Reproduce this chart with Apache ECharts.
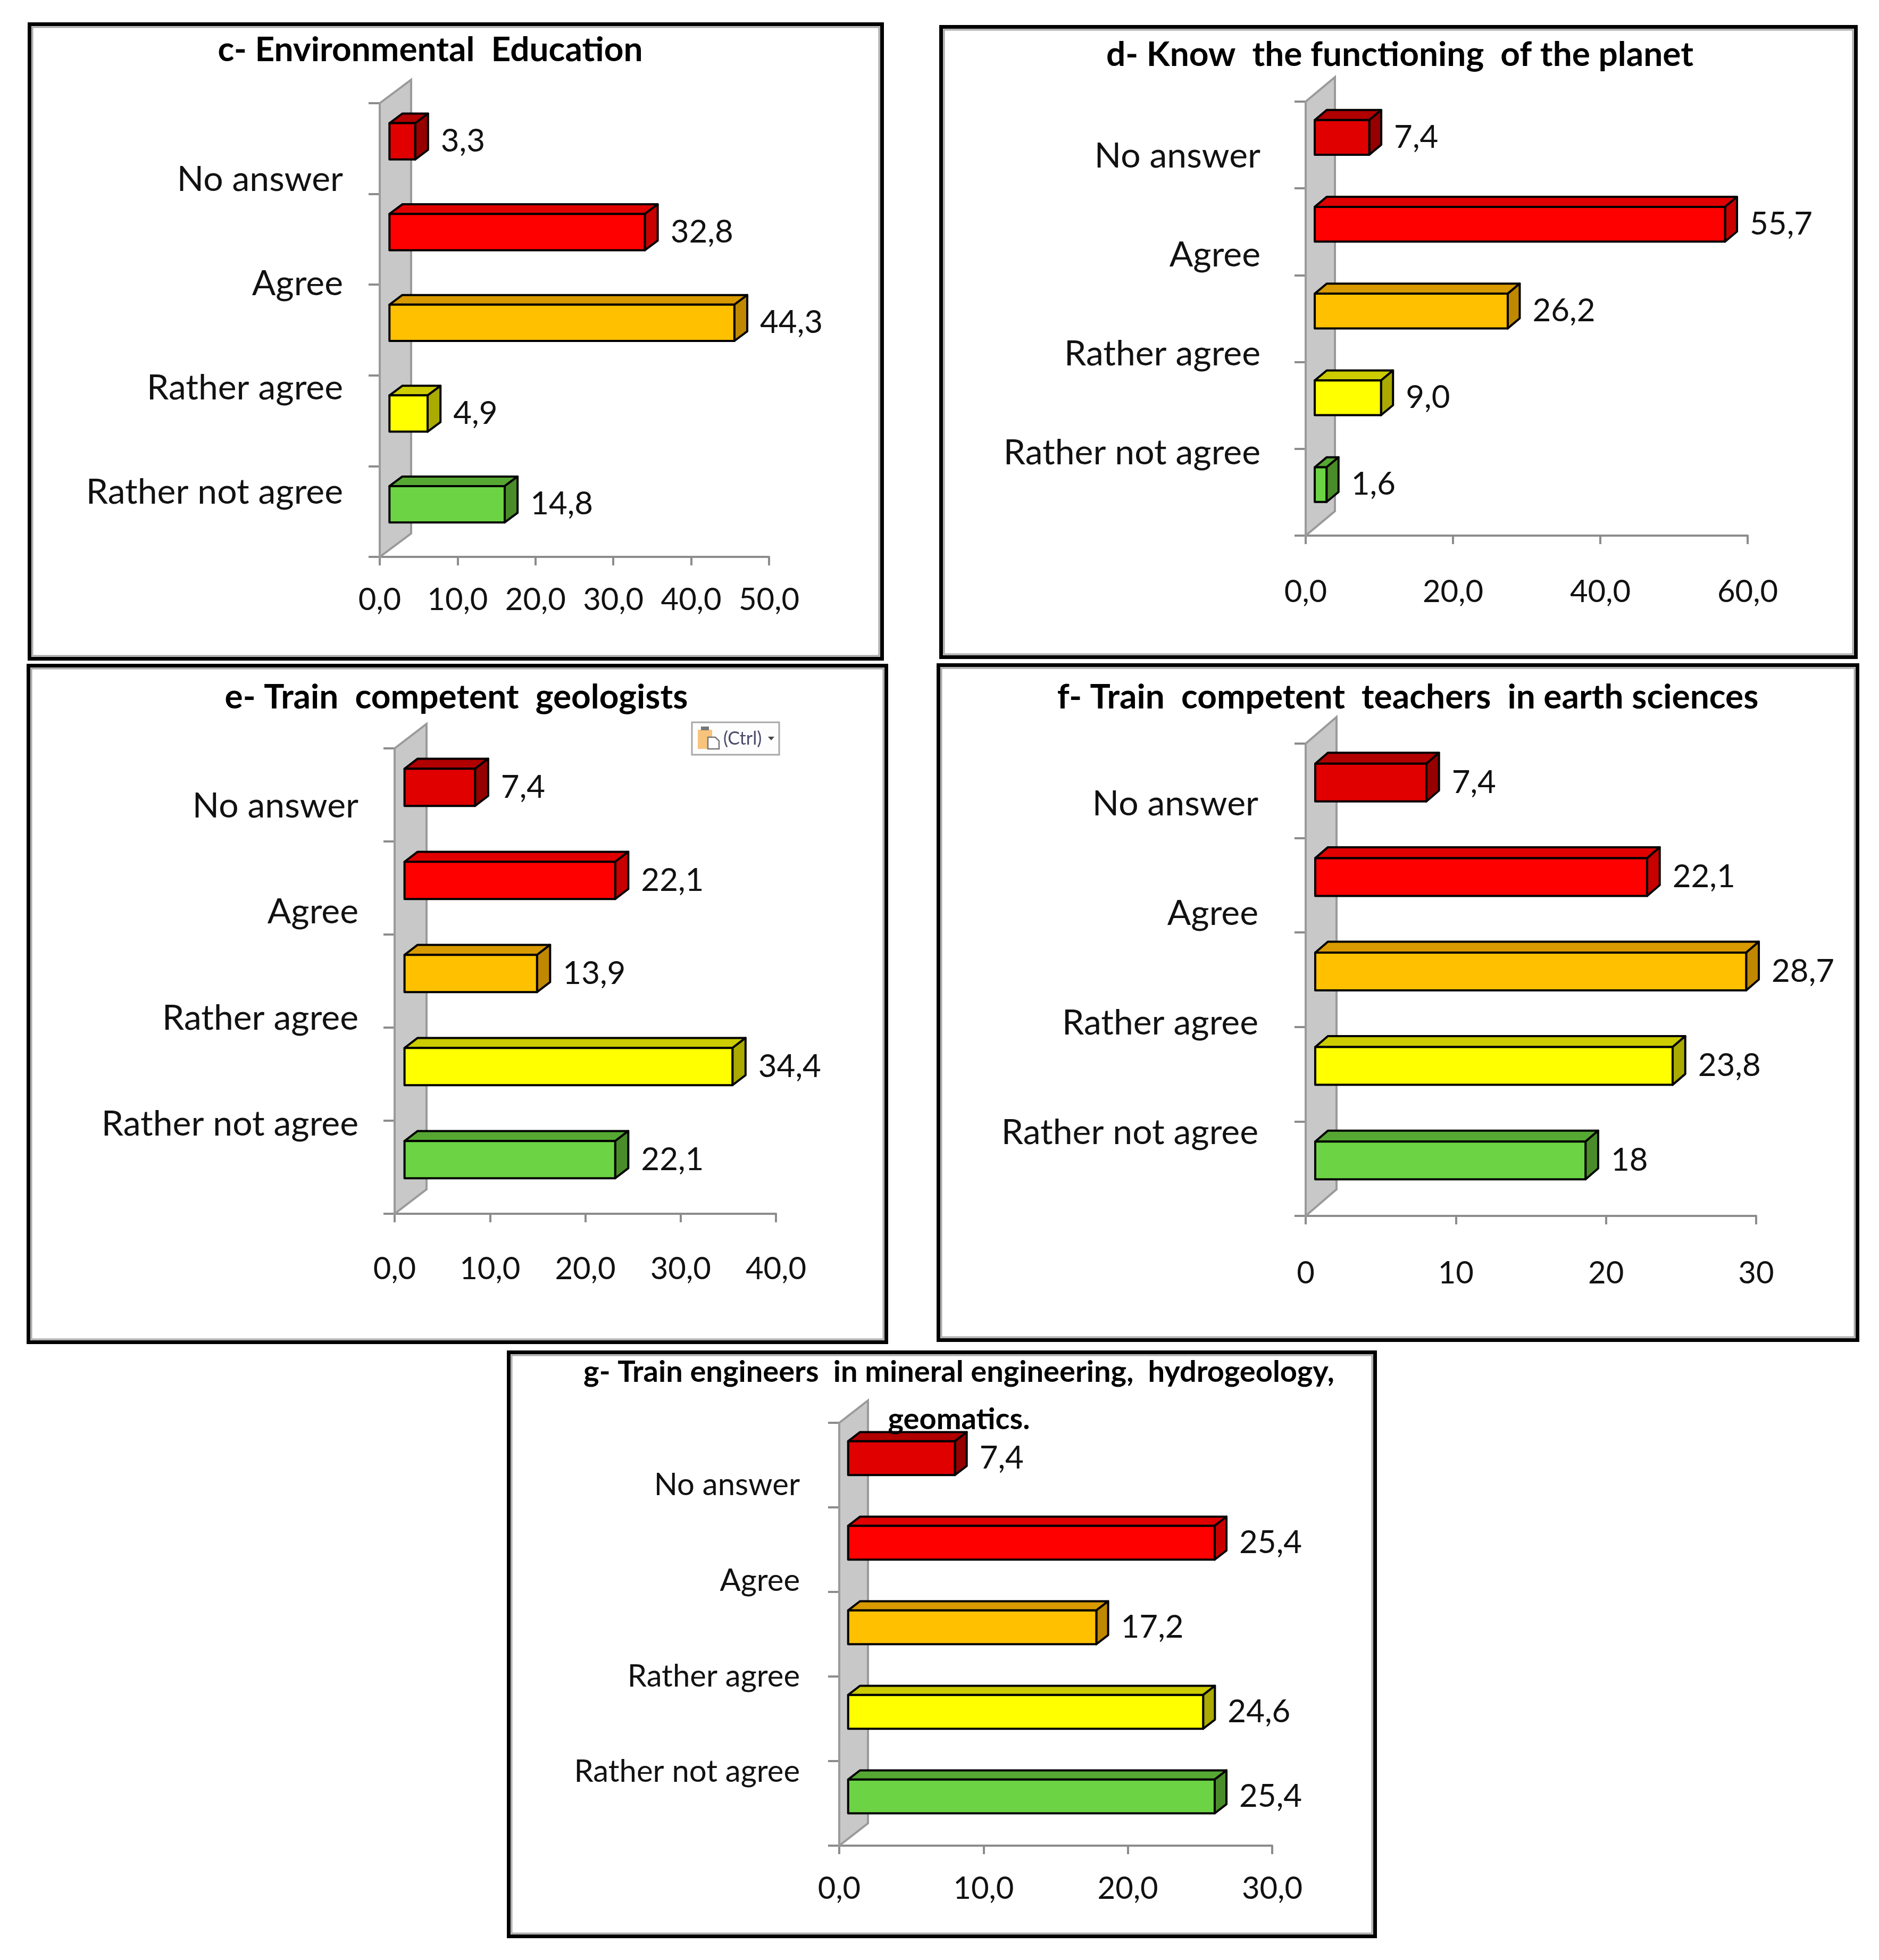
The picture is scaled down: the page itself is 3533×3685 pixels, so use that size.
<!DOCTYPE html>
<html>
<head>
<meta charset="utf-8">
<script src="https://cdn.jsdelivr.net/npm/echarts@6/dist/echarts.min.js"></script>
<style>
html, body { margin: 0; padding: 0; background: #fff; }
#chart { width: 3533px; height: 3685px; }
</style>
</head>
<body>
<div id="chart"></div>
<script>
// category labels shown on the left of every panel
var categoryLabels = ['No answer', 'Agree', 'Rather agree', 'Rather not agree'];
var barSlots = ['1', '2', '3', '4', '5'];

var titles = [
    'c- Environmental  Education',
    'd- Know  the functioning  of the planet',
    'e- Train  competent  geologists',
    'f- Train  competent  teachers  in earth sciences',
    'g- Train engineers  in mineral engineering,  hydrogeology,\ngeomatics.'
];

var valuesC = [3.3, 32.8, 44.3, 4.9, 14.8];
var valuesD = [7.4, 55.7, 26.2, 9.0, 1.6];
var valuesE = [7.4, 22.1, 13.9, 34.4, 22.1];
var valuesF = [7.4, 22.1, 28.7, 23.8, 18];
var valuesG = [7.4, 25.4, 17.2, 24.6, 25.4];

var axisMax = [50, 60, 40, 30, 30];
var axisStep = [10, 20, 10, 10, 10];
var axisDecimals = [1, 1, 1, null, 1];

var frontColors = ['#E00000', '#FF0000', '#FFC000', '#FFFF00', '#6CD444'];
var topColors = ['#B00000', '#E00000', '#D99A00', '#CCCC00', '#56A833'];
var sideColors = ['#960000', '#C80000', '#BF8800', '#AAAA00', '#4A8C2A'];

var FONT = 'Lato, "Open Sans", sans-serif';
var AXIS_GRAY = '#8C8C8C';

// panel layout (pixels)
var panels = [
    { box: [52, 42, 1662, 1242], x0: 714, top: 194, bottom: 1047, xEnd: 1446, tx: 809, ty: 94, tFont: 64,
      labRight: 645, labFont: 66, labA: 0.84, labB: 1.15, xMargin: 52, depth: [59, 44] },
    { box: [1766, 47, 3493, 1239], x0: 2455, top: 191, bottom: 1007, xEnd: 3286, tx: 2632, ty: 103, tFont: 64,
      labRight: 2370, labFont: 66, labA: 0.63, labB: 1.14, xMargin: 77, depth: [55, 46] },
    { box: [50, 1248, 1670, 2527], x0: 742, top: 1407, bottom: 2282, xEnd: 1459, tx: 858, ty: 1311, tFont: 64,
      labRight: 674, labFont: 66, labA: 0.62, labB: 1.14, xMargin: 75, depth: [60, 46] },
    { box: [1761, 1247, 3496, 2523], x0: 2455, top: 1398, bottom: 2286, xEnd: 3302, tx: 2647, ty: 1311, tFont: 64,
      labRight: 2366, labFont: 66, labA: 0.64, labB: 1.16, xMargin: 79, depth: [58, 50] },
    { box: [953, 2539, 2589, 3644], x0: 1578, top: 2675, bottom: 3470, xEnd: 2392, tx: 1803, ty: 2624, tFont: 56,
      labRight: 1504, labFont: 58, labA: 0.74, labB: 1.13, xMargin: 52, depth: [54, 42] }
];
var allValues = [valuesC, valuesD, valuesE, valuesF, valuesG];

function fmt(v, dec) {
    var s = dec == null ? String(v) : Number(v).toFixed(dec);
    return s.replace('.', ',');
}

function wallRenderer(p) {
    return function (params, api) {
        var cs = params.coordSys;
        var dx = p.depth[0], dy = p.depth[1];
        return {
            type: 'polygon',
            shape: { points: [[cs.x, cs.y], [cs.x + dx, cs.y - dy], [cs.x + dx, cs.y + cs.height - dy], [cs.x, cs.y + cs.height]] },
            style: { fill: '#C8C8C8', stroke: '#9A9A9A', lineWidth: 4 }
        };
    };
}

function barRenderer(p, dec) {
    return function (params, api) {
        var v = api.value(0), i = api.value(1);
        var base = api.coord([0, i]);
        var end = api.coord([v, i]);
        var band = api.size([0, 1])[1];
        var fx = p.depth[0] * 0.31, fy = p.depth[1] * 0.31;
        var bx = p.depth[0] * 0.41, by = p.depth[1] * 0.41;
        var h = band * 0.2;
        var xl = base[0] + fx, xr = end[0] + fx;
        var yt = base[1] - h - fy, yb = base[1] + h - fy;
        var edge = { stroke: '#000', lineWidth: 4, lineJoin: 'round' };
        return {
            type: 'group',
            children: [
                { type: 'polygon', shape: { points: [[xl, yt], [xr, yt], [xr + bx, yt - by], [xl + bx, yt - by]] },
                  style: Object.assign({ fill: topColors[i] }, edge) },
                { type: 'polygon', shape: { points: [[xr, yt], [xr + bx, yt - by], [xr + bx, yb - by], [xr, yb]] },
                  style: Object.assign({ fill: sideColors[i] }, edge) },
                { type: 'rect', shape: { x: xl, y: yt, width: xr - xl, height: yb - yt },
                  style: Object.assign({ fill: frontColors[i] }, edge) },
                { type: 'text', style: { text: fmt(v, dec), x: xr + bx + 24, y: (yt + yb) / 2,
                  align: 'left', verticalAlign: 'middle', fontSize: 60, fontFamily: FONT, fill: '#111' } }
            ]
        };
    };
}

var grids = [], xAxes = [], yAxes = [], series = [], graphics = [];

panels.forEach(function (p, k) {
    var band = (p.bottom - p.top) / barSlots.length;
    var dec = axisDecimals[k];
    var gi = grids.length;
    grids.push({ left: p.x0, top: p.top, width: p.xEnd - p.x0, height: p.bottom - p.top, containLabel: false, outerBoundsMode: 'none' });
    grids.push({ left: p.x0, top: p.top + (p.labA - p.labB / 2) * band, width: 10, height: 4 * p.labB * band, containLabel: false, outerBoundsMode: 'none' });

    xAxes.push({
        gridIndex: gi, type: 'value', min: 0, max: axisMax[k], interval: axisStep[k],
        axisLine: { show: true, lineStyle: { color: AXIS_GRAY, width: 4 } },
        axisTick: { show: true, length: 16, lineStyle: { color: AXIS_GRAY, width: 4 } },
        splitLine: { show: false },
        axisLabel: { margin: p.xMargin, fontSize: 58, fontFamily: FONT, color: '#111',
            formatter: function (v) { return fmt(v, dec); } }
    });
    xAxes.push({ gridIndex: gi + 1, type: 'value', show: false });

    yAxes.push({
        gridIndex: gi, type: 'category', data: barSlots, inverse: true,
        axisLine: { show: true, lineStyle: { color: AXIS_GRAY, width: 4 } },
        axisTick: { show: true, length: 21, lineStyle: { color: AXIS_GRAY, width: 4 } },
        axisLabel: { show: false }, splitLine: { show: false }
    });
    yAxes.push({
        gridIndex: gi + 1, type: 'category', data: categoryLabels, inverse: true,
        axisLine: { show: false }, axisTick: { show: false }, splitLine: { show: false },
        axisLabel: { margin: p.x0 - p.labRight, fontSize: p.labFont, fontFamily: FONT, color: '#111' }
    });

    series.push({
        type: 'custom', xAxisIndex: gi, yAxisIndex: gi, z: 1, silent: true,
        renderItem: wallRenderer(p), data: [[0, 0]]
    });
    series.push({
        type: 'custom', xAxisIndex: gi, yAxisIndex: gi, z: 3, silent: true,
        renderItem: barRenderer(p, dec),
        data: allValues[k].map(function (v, i) { return [v, i]; })
    });

    // panel frame
    var b = p.box;
    graphics.push({ type: 'rect', shape: { x: b[0] + 3.5, y: b[1] + 3.5, width: b[2] - b[0] - 7, height: b[3] - b[1] - 7 },
        style: { fill: 'none', stroke: '#000', lineWidth: 7 }, z: 0 });
    graphics.push({ type: 'rect', shape: { x: b[0] + 9, y: b[1] + 9, width: b[2] - b[0] - 18, height: b[3] - b[1] - 18 },
        style: { fill: 'none', stroke: '#A8A8A8', lineWidth: 3 }, z: 0 });
    graphics.push({ type: 'text', x: p.tx, y: p.ty,
        style: { text: titles[k], align: 'center', verticalAlign: 'middle', fontSize: p.tFont, fontWeight: 'bold',
            fontFamily: FONT, fill: '#000', lineHeight: 89 }, z: 5 });
});

// Excel paste-options button left in panel e
graphics.push({ type: 'group', z: 6, children: [
    { type: 'rect', shape: { x: 1301, y: 1358, width: 164, height: 61 }, style: { fill: '#FDFDFD', stroke: '#A8A8A8', lineWidth: 3 } },
    { type: 'rect', shape: { x: 1312, y: 1372, width: 27, height: 36 }, style: { fill: '#F8C47C' } },
    { type: 'rect', shape: { x: 1318, y: 1366, width: 15, height: 7 }, style: { fill: '#777' } },
    { type: 'polygon', shape: { points: [[1331, 1386], [1345, 1386], [1352, 1393], [1352, 1408], [1331, 1408]] },
      style: { fill: '#fff', stroke: '#777', lineWidth: 2.5 } },
    { type: 'text', x: 1360, y: 1389, style: { text: '(Ctrl)', align: 'left', verticalAlign: 'middle', fontSize: 34,
      fontFamily: FONT, fill: '#4A4A6A' } },
    { type: 'polygon', shape: { points: [[1444, 1385], [1456, 1385], [1450, 1392]] }, style: { fill: '#444' } }
] });

var chart = echarts.init(document.getElementById('chart'));
chart.setOption({
    animation: false,
    backgroundColor: '#fff',
    grid: grids,
    xAxis: xAxes,
    yAxis: yAxes,
    series: series,
    graphic: graphics
});
</script>
</body>
</html>
